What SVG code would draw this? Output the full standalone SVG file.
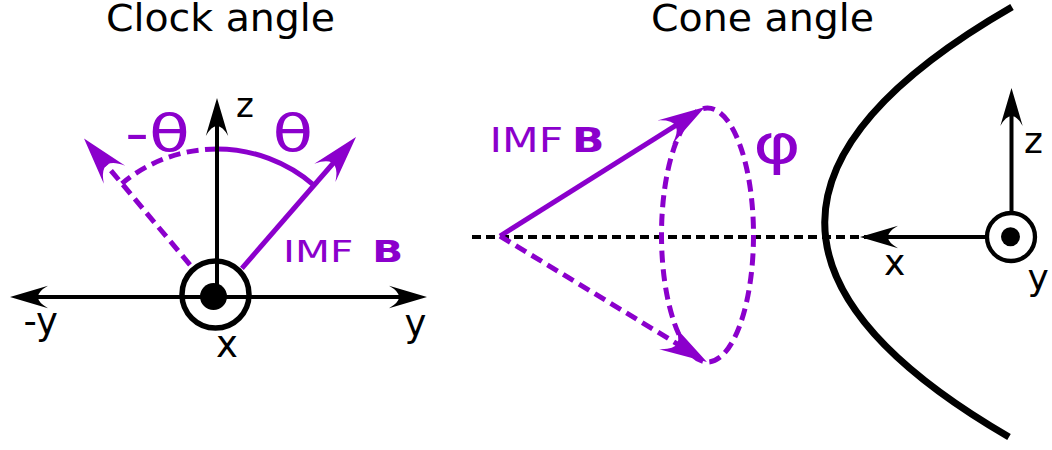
<svg xmlns="http://www.w3.org/2000/svg" width="1052" height="450" viewBox="0 0 1052 450">
  <style>
    .t { font-family: "DejaVu Sans", sans-serif; fill: #000; }
    .p { font-family: "DejaVu Sans", sans-serif; fill: #8b00cc; }
    .ax { stroke: #000; stroke-width: 4; fill: none; }
    .pv { stroke: #8b00cc; stroke-width: 5; fill: none; }
    .dashK { stroke-dasharray: 9 5; }
    .dashP { stroke-dasharray: 12 6.5; }
  </style>
  <defs>
    <marker id="ahK" viewBox="-10 -3 10 6" markerWidth="10" markerHeight="6" refX="-6.5" refY="0" orient="auto-start-reverse" markerUnits="strokeWidth" overflow="visible">
      <path d="M0,0 L-9.5,-2.8 Q-4.5,0 -9.5,2.8 Z" fill="#000"/>
    </marker>
    <marker id="ahP" viewBox="-10 -3 10 6" markerWidth="10" markerHeight="6" refX="-6.5" refY="0" orient="auto-start-reverse" markerUnits="strokeWidth" overflow="visible">
      <path d="M0,0 L-9.5,-2.8 Q-4.5,0 -9.5,2.8 Z" fill="#8b00cc"/>
    </marker>
  </defs>
  <rect width="1052" height="450" fill="#fff"/>

  <!-- Titles -->
  <text id="title-clock" class="t" x="106" y="30.5" font-size="37" textLength="229" lengthAdjust="spacingAndGlyphs">Clock angle</text>
  <text id="title-cone" class="t" x="651" y="30.5" font-size="37" textLength="223" lengthAdjust="spacingAndGlyphs">Cone angle</text>

  <!-- Clock angle panel -->
  <g id="clock-angle">
    <g id="clock-arcs">
      <path class="pv" d="M217,149 A148,148 0 0 1 314.1,185.3"/>
      <path class="pv dashP" d="M217,149 A148,148 0 0 0 121.9,183.6"/>
    </g>
    <g id="clock-connectors">
      <line class="ax" x1="36" y1="297" x2="401" y2="297" marker-start="url(#ahK)" marker-end="url(#ahK)"/>
      <line class="ax" x1="217" y1="297" x2="217" y2="124" marker-end="url(#ahK)"/>
      <line class="pv" x1="241.9" y1="268.3" x2="334.7" y2="161.5" marker-end="url(#ahP)"/>
      <line class="pv dashP" x1="190" y1="264.8" x2="104.9" y2="163.3" marker-end="url(#ahP)"/>
    </g>
    <g id="clock-origin">
      <circle cx="215.5" cy="294.5" r="33.5" fill="none" stroke="#000" stroke-width="5.5"/>
      <circle cx="213.5" cy="296.5" r="13.5" fill="#000"/>
    </g>
    <g id="clock-labels">
      <text class="t" x="236" y="117" font-size="34">z</text>
      <text class="t" x="23.4" y="334" font-size="37">-y</text>
      <text class="t" x="404.5" y="336" font-size="37">y</text>
      <text class="t" x="216" y="357" font-size="37">x</text>
      <text class="p" x="125" y="151" font-size="52" textLength="65" lengthAdjust="spacingAndGlyphs">-θ</text>
      <text class="p" x="272.6" y="151" font-size="52" textLength="40.7" lengthAdjust="spacingAndGlyphs">θ</text>
      <text class="p" font-size="30.5" transform="translate(283,262.3) scale(1.33,1)">IMF<tspan x="67.2" font-weight="bold">B</tspan></text>
    </g>
  </g>

  <!-- Cone angle panel -->
  <g id="cone-angle">
    <g id="magnetopause">
      <path d="M1012,7 Q639,222 1009,437" fill="none" stroke="#000" stroke-width="7"/>
    </g>
    <g id="cone-connectors">
      <line class="ax dashK" x1="472" y1="237" x2="985" y2="237"/>
      <ellipse class="pv dashP" cx="707.5" cy="235" rx="46" ry="127"/>
      <line class="pv" x1="500" y1="236" x2="677.5" y2="124.3" marker-end="url(#ahP)"/>
      <line class="pv dashP" x1="500" y1="236" x2="679.2" y2="345.1" marker-end="url(#ahP)"/>
      <line class="ax" x1="987" y1="237" x2="886" y2="237" marker-end="url(#ahK)"/>
      <line class="ax" x1="1011.5" y1="213" x2="1011.5" y2="114" marker-end="url(#ahK)"/>
    </g>
    <g id="cone-origin">
      <circle cx="1011" cy="237" r="24" fill="#fff" stroke="#000" stroke-width="4.3"/>
      <circle cx="1010.5" cy="236.7" r="9.5" fill="#000"/>
    </g>
    <g id="cone-labels">
      <text class="t" x="1024" y="153" font-size="36">z</text>
      <text class="t" x="884" y="275" font-size="36">x</text>
      <text class="t" x="1027.5" y="290" font-size="36">y</text>
      <text class="p" x="753" y="163" font-size="56" textLength="48" lengthAdjust="spacingAndGlyphs">φ</text>
      <text class="p" font-size="34" transform="translate(489.5,152) scale(1.25,1)">IMF<tspan x="66" font-weight="bold">B</tspan></text>
    </g>
  </g>
</svg>
